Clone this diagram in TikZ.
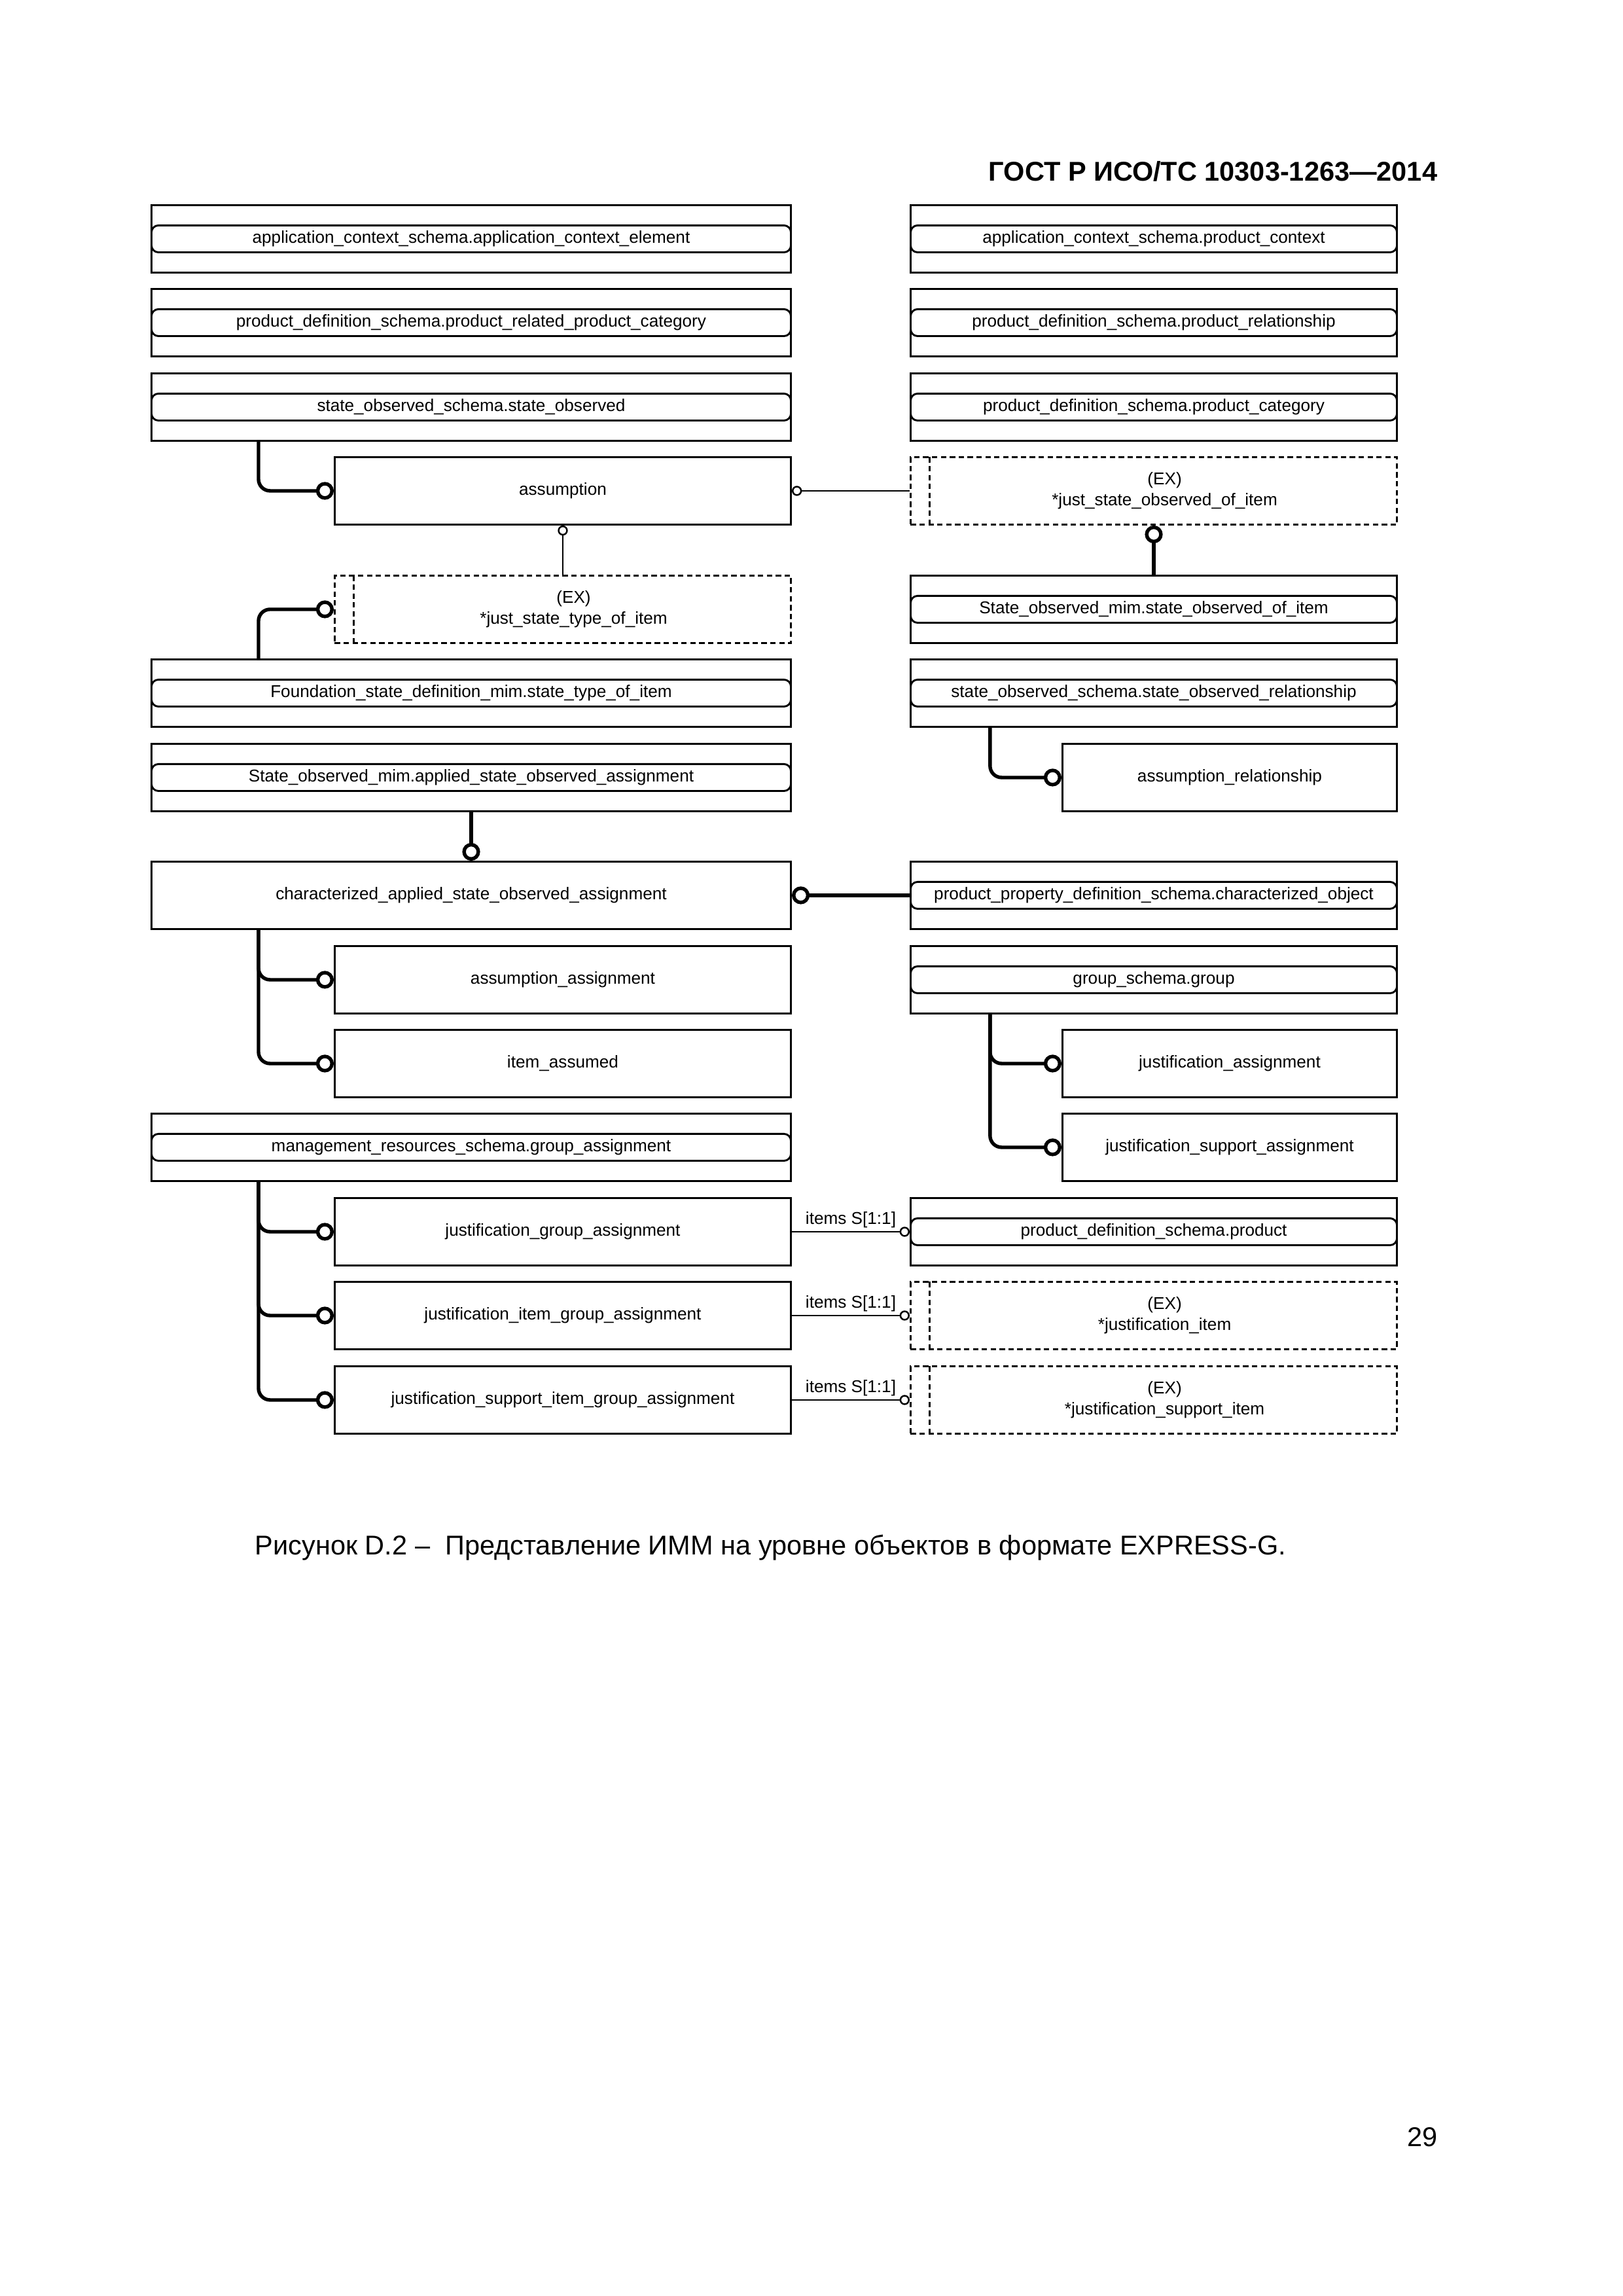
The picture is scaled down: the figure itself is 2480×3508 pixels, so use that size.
\documentclass[tikz,border=0pt]{standalone}
\usepackage{fontspec}
\setmainfont{Liberation Sans}
\usetikzlibrary{arrows.meta}
\newcommand{\diagfont}{\fontsize{6.3}{7.6}\selectfont}
\newcommand{\exname}[1]{\hspace{2.8mm}\begin{tabular}{@{}c@{}}(EX)\\{}#1\end{tabular}}
\tikzset{
  entity/.style={draw, line width=0.7pt, anchor=north west, minimum height=8.72mm, inner sep=0pt, font=\diagfont},
  wide/.style={minimum width=82.73mm},
  narrow/.style={minimum width=59.02mm},
  rwide/.style={minimum width=62.92mm},
  rnarrow/.style={minimum width=43.27mm},
  typeref/.style={entity, path picture={\draw[line width=0.7pt, rounded corners=0.9mm]
      ([yshift=1.74mm]path picture bounding box.west) rectangle ([yshift=-1.74mm]path picture bounding box.east);}},
  extype/.style={entity, dash pattern=on 0.7mm off 0.45mm, path picture={\draw[line width=0.7pt, dash pattern=on 0.7mm off 0.45mm]
      ([xshift=2.46mm]path picture bounding box.north west) -- ([xshift=2.46mm]path picture bounding box.south west);}},
  subtype/.style={line width=1.3pt, rounded corners=1.5mm, -{Circle[open, length=2.3mm, width=2.3mm]}},
  attr/.style={line width=0.6pt, -{Circle[open, length=1.3mm, width=1.3mm]}},
  plain/.style={inner sep=0pt, font=\fontsize{10}{12}\selectfont}
}
\begin{document}
\begin{tikzpicture}[x=0.0846774mm, y=-0.0846774mm]
\useasboundingbox (0,0) rectangle (2480,3508);
\node[plain, anchor=east, font=\bfseries\fontsize{10}{12}\selectfont] (gost) at (2197,262) {ГОСТ Р ИСО/ТС 10303-1263—2014};

\node[typeref, wide] (ace) at (230,312) {application\_context\_schema.application\_context\_element};
\node[typeref, wide] (prpc) at (230,440) {product\_definition\_schema.product\_related\_product\_category};
\node[typeref, wide] (so) at (230,569) {state\_observed\_schema.state\_observed};
\node[entity, narrow] (assumption) at (510,697) {assumption};
\node[extype, narrow] (jsti) at (510,878) {\exname{*just\_state\_type\_of\_item}};
\node[typeref, wide] (fsti) at (230,1006) {Foundation\_state\_definition\_mim.state\_type\_of\_item};
\node[typeref, wide] (asoa) at (230,1135) {State\_observed\_mim.applied\_state\_observed\_assignment};
\node[entity, wide] (casoa) at (230,1315) {characterized\_applied\_state\_observed\_assignment};
\node[entity, narrow] (aa) at (510,1444) {assumption\_assignment};
\node[entity, narrow] (ia) at (510,1572) {item\_assumed};
\node[typeref, wide] (mrga) at (230,1700) {management\_resources\_schema.group\_assignment};
\node[entity, narrow] (jga) at (510,1829) {justification\_group\_assignment};
\node[entity, narrow] (jiga) at (510,1957) {justification\_item\_group\_assignment};
\node[entity, narrow] (jsiga) at (510,2086) {justification\_support\_item\_group\_assignment};

\node[typeref, rwide] (pc) at (1390,312) {application\_context\_schema.product\_context};
\node[typeref, rwide] (pr) at (1390,440) {product\_definition\_schema.product\_relationship};
\node[typeref, rwide] (pcat) at (1390,569) {product\_definition\_schema.product\_category};
\node[extype, rwide] (jsoi) at (1390,697) {\exname{*just\_state\_observed\_of\_item}};
\node[typeref, rwide] (soi) at (1390,878) {State\_observed\_mim.state\_observed\_of\_item};
\node[typeref, rwide] (sor) at (1390,1006) {state\_observed\_schema.state\_observed\_relationship};
\node[entity, rnarrow] (ar) at (1622,1135) {assumption\_relationship};
\node[typeref, rwide] (co) at (1390,1315) {product\_property\_definition\_schema.characterized\_object};
\node[typeref, rwide] (grp) at (1390,1444) {group\_schema.group};
\node[entity, rnarrow] (ja) at (1622,1572) {justification\_assignment};
\node[entity, rnarrow] (jsa) at (1622,1700) {justification\_support\_assignment};
\node[typeref, rwide] (prod) at (1390,1829) {product\_definition\_schema.product};
\node[extype, rwide] (ji) at (1390,1957) {\exname{*justification\_item}};
\node[extype, rwide] (jsi) at (1390,2086) {\exname{*justification\_support\_item}};

\draw[subtype] ([xshift=13.97mm]so.south west) |- (assumption.west);
\draw[subtype] ([xshift=13.97mm]fsti.north west) |- (jsti.west);
\draw[subtype] (soi.north) -- (jsoi.south);
\draw[subtype] ([xshift=10.4mm]sor.south west) |- (ar.west);
\draw[subtype] (asoa.south) -- (casoa.north);
\draw[subtype] (co.west) -- (casoa.east);
\draw[subtype] ([xshift=13.97mm]casoa.south west) |- (aa.west);
\draw[subtype] ([xshift=13.97mm]casoa.south west) |- (ia.west);
\draw[subtype] ([xshift=10.4mm]grp.south west) |- (ja.west);
\draw[subtype] ([xshift=10.4mm]grp.south west) |- (jsa.west);
\draw[subtype] ([xshift=13.97mm]mrga.south west) |- (jga.west);
\draw[subtype] ([xshift=13.97mm]mrga.south west) |- (jiga.west);
\draw[subtype] ([xshift=13.97mm]mrga.south west) |- (jsiga.west);

\draw[attr] (jsoi.west) -- (assumption.east);
\draw[attr] (jsti.north) -- (assumption.south);
\draw[attr] (jga.east) -- node[above, inner sep=1.2pt, font=\diagfont] {items S[1:1]} (prod.west);
\draw[attr] (jiga.east) -- node[above, inner sep=1.2pt, font=\diagfont] {items S[1:1]} (ji.west);
\draw[attr] (jsiga.east) -- node[above, inner sep=1.2pt, font=\diagfont] {items S[1:1]} (jsi.west);

\node[plain, anchor=west] (caption) at (389,2365) {Рисунок D.2 –\ \ Представление ИММ на уровне объектов в формате EXPRESS-G.};
\node[plain, anchor=east] (page) at (2197,3265) {29};
\end{tikzpicture}
\end{document}
